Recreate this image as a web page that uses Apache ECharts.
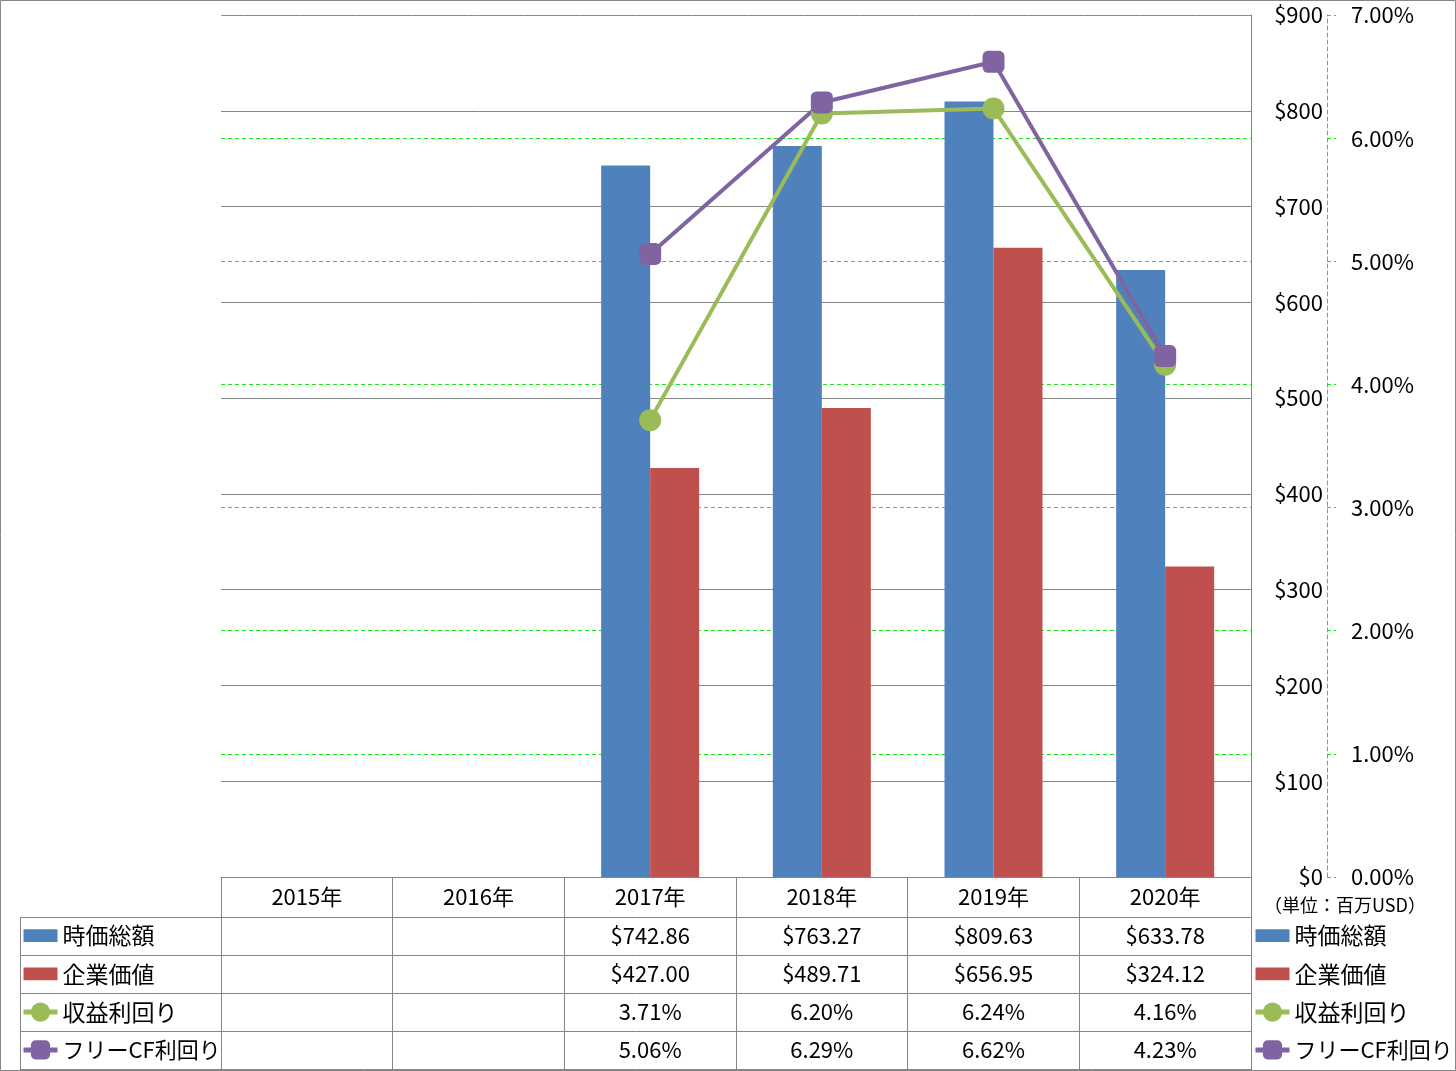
<!DOCTYPE html>
<html>
<head>
<meta charset="utf-8">
<script src="https://cdn.jsdelivr.net/npm/echarts@6/dist/echarts.min.js"></script>
<style>
  html, body { margin: 0; padding: 0; background: #fff; }
  #chart { width: 1456px; height: 1071px; }
</style>
</head>
<body>
<div id="chart"></div>
<script>
// Values (USD millions / percent)
var YEARS = ['2015年', '2016年', '2017年', '2018年', '2019年', '2020年'];
var MARKET_CAP = [null, null, 742.86, 763.27, 809.63, 633.78];
var ENTERPRISE_VALUE = [null, null, 427.00, 489.71, 656.95, 324.12];
var EARNINGS_YIELD = [null, null, 3.71, 6.20, 6.24, 4.16];
var FCF_YIELD = [null, null, 5.06, 6.29, 6.62, 4.23];
var SERIES_NAMES = ['時価総額', '企業価値', '収益利回り', 'フリーCF利回り'];

var FONT = '"Noto Sans CJK JP", "Noto Sans", sans-serif';
var GRAY = '#868686';
var GREEN_GRID = '#19e619';
var BAR_ICON = 'path://M0,0h32v12h-32z';

function fmtUsd(v) { return v == null ? '' : '$' + v.toFixed(2); }
function fmtPct(v) { return v == null ? '' : v.toFixed(2) + '%'; }

function legendBlock(left) {
    return {
        orient: 'vertical',
        left: left,
        top: 924,
        padding: 0,
        itemWidth: 34,
        itemHeight: 24,
        itemGap: 15.3,
        selectedMode: false,
        textStyle: { fontSize: 23, fontFamily: FONT, color: '#000' },
        data: [
            { name: SERIES_NAMES[0], icon: BAR_ICON },
            { name: SERIES_NAMES[1], icon: BAR_ICON },
            { name: SERIES_NAMES[2], lineStyle: { width: 5 } },
            { name: SERIES_NAMES[3], lineStyle: { width: 5 }, textStyle: { fontSize: 22, fontFamily: FONT, color: '#000' } }
        ]
    };
}

var chart = echarts.init(document.getElementById('chart'));

chart.setOption({
    animation: false,
    backgroundColor: '#fff',
    textStyle: { fontFamily: FONT },
    grid: { left: 221, right: 205, top: 15, bottom: 194 },
    legend: [legendBlock(21), legendBlock(1253)],
    xAxis: {
        type: 'category',
        data: YEARS,
        boundaryGap: true,
        axisLine: { lineStyle: { color: GRAY, width: 1 } },
        axisTick: { show: true, length: 193, lineStyle: { color: GRAY, width: 1 } },
        axisLabel: { margin: 9, fontSize: 22, color: '#000', fontFamily: FONT }
    },
    yAxis: [
        {
            type: 'value',
            position: 'right',
            min: 0,
            max: 900,
            interval: 100,
            axisLine: { show: true, lineStyle: { color: GRAY, width: 1 } },
            axisTick: { show: false },
            axisLabel: {
                align: 'right',
                margin: 72,
                fontSize: 22,
                color: '#000',
                fontFamily: FONT,
                formatter: function (v) { return '$' + v; }
            },
            splitLine: { lineStyle: { color: GRAY, width: 1 } }
        },
        {
            type: 'value',
            position: 'right',
            offset: 76,
            min: 0,
            max: 7,
            interval: 1,
            axisLine: { show: true, lineStyle: { color: GREEN_GRID, width: 1, type: [4, 3] } },
            axisTick: { show: true, length: 9, lineStyle: { color: GREEN_GRID, width: 1, type: [4, 3] } },
            axisLabel: {
                margin: 24,
                fontSize: 22,
                color: '#000',
                fontFamily: FONT,
                formatter: function (v) { return v.toFixed(2) + '%'; }
            },
            splitLine: { lineStyle: { color: GREEN_GRID, width: 1, type: [4, 3] } }
        }
    ],
    series: [
        {
            name: SERIES_NAMES[0],
            type: 'bar',
            data: MARKET_CAP,
            barWidth: 49,
            barGap: '0%',
            itemStyle: { color: '#4f81bd' }
        },
        {
            name: SERIES_NAMES[1],
            type: 'bar',
            data: ENTERPRISE_VALUE,
            barWidth: 49,
            barGap: '0%',
            itemStyle: { color: '#c0504d' }
        },
        {
            name: SERIES_NAMES[2],
            type: 'line',
            yAxisIndex: 1,
            data: EARNINGS_YIELD,
            symbol: 'circle',
            symbolSize: 22,
            lineStyle: { color: '#9bbb59', width: 4 },
            itemStyle: { color: '#9bbb59' }
        },
        {
            name: SERIES_NAMES[3],
            type: 'line',
            yAxisIndex: 1,
            data: FCF_YIELD,
            symbol: 'roundRect',
            symbolSize: 22,
            lineStyle: { color: '#8064a2', width: 4 },
            itemStyle: { color: '#8064a2' }
        }
    ]
});

// Data table under the plot, columns aligned to the category axis
var rowY = [936, 974, 1012, 1050];
var rowText = [
    MARKET_CAP.map(fmtUsd),
    ENTERPRISE_VALUE.map(fmtUsd),
    EARNINGS_YIELD.map(fmtPct),
    FCF_YIELD.map(fmtPct)
];
var graphics = [];

YEARS.forEach(function (year, i) {
    var cx = chart.convertToPixel({ xAxisIndex: 0 }, year);
    rowText.forEach(function (row, j) {
        if (!row[i]) return;
        graphics.push({
            type: 'text',
            x: cx,
            y: rowY[j],
            style: {
                text: row[i],
                fill: '#000',
                font: '22px ' + FONT,
                align: 'center',
                verticalAlign: 'middle',
                textAlign: 'center',
                textVerticalAlign: 'middle'
            }
        });
    });
});

[917.5, 955.5, 993.5, 1031.5, 1069.5].forEach(function (y) {
    graphics.push({
        type: 'line',
        shape: { x1: 20, y1: y, x2: 1251, y2: y },
        style: { stroke: GRAY, lineWidth: 1 }
    });
});
graphics.push({
    type: 'line',
    shape: { x1: 20.5, y1: 917, x2: 20.5, y2: 1070 },
    style: { stroke: GRAY, lineWidth: 1 }
});

// Unit note
graphics.push({
    type: 'text',
    x: 1264,
    y: 905,
    style: {
        text: '（単位：百万USD）',
        fill: '#000',
        font: '18px ' + FONT,
        align: 'left',
        verticalAlign: 'middle',
        textAlign: 'left',
        textVerticalAlign: 'middle'
    }
});

// Outer chart border
graphics.push({
    type: 'rect',
    shape: { x: 0.5, y: 0.5, width: 1455, height: 1070 },
    style: { fill: 'none', stroke: GRAY, lineWidth: 1 }
});

chart.setOption({ graphic: graphics });
</script>
</body>
</html>
